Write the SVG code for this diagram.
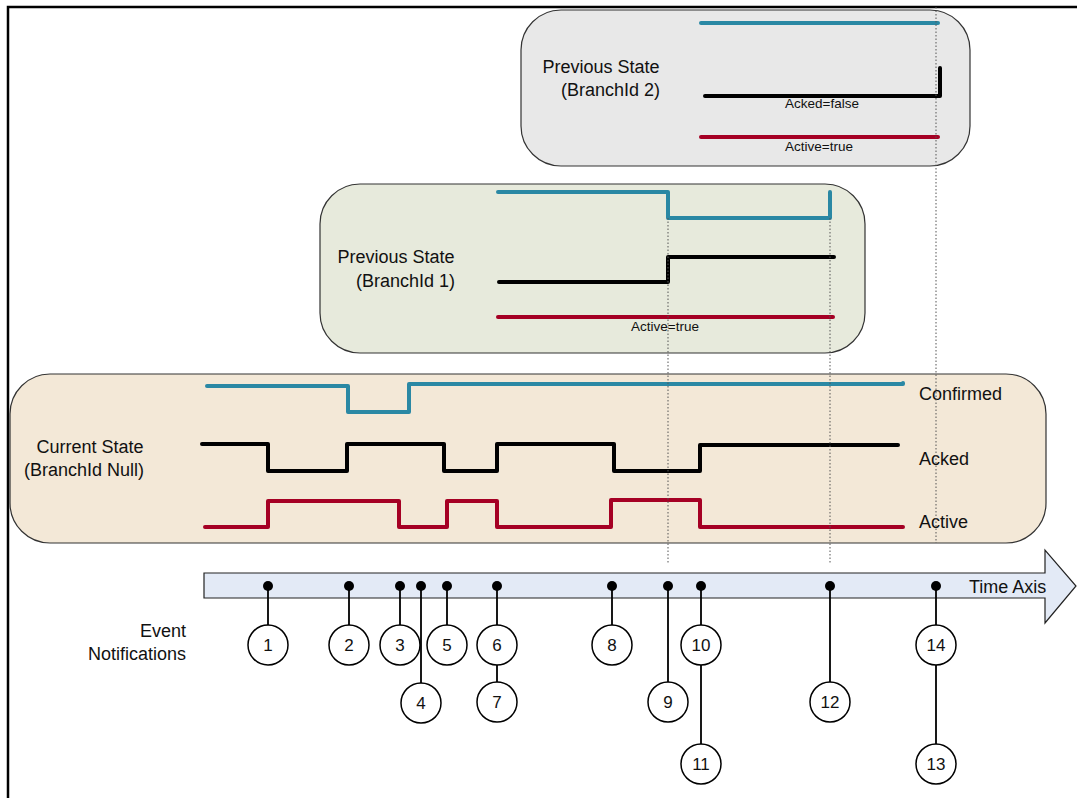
<svg xmlns="http://www.w3.org/2000/svg" width="1077" height="798" viewBox="0 0 1077 798">
<style>
.box{stroke:#333;stroke-width:1.2}
.sig{fill:none;stroke-width:4;stroke-linejoin:round;stroke-linecap:round}
.b{stroke:#2a88a4}
.k{stroke:#000}
.r{stroke:#a50024}
.lbl{font-family:"Liberation Sans",Arial,sans-serif;font-size:18px;fill:#111}
.sm{font-family:"Liberation Sans",Arial,sans-serif;font-size:13.5px;fill:#111;text-anchor:middle}
.dot{fill:none;stroke:#555;stroke-width:1;stroke-dasharray:1.5 2}
.ev circle.c{fill:#fff;stroke:#000;stroke-width:1.5}
.ev text{font-family:"Liberation Sans",Arial,sans-serif;font-size:17px;text-anchor:middle;fill:#111}
.tick{stroke:#000;stroke-width:1.8}
.pin{fill:#000}
</style>
<rect width="1077" height="798" fill="#fff"/>
<path d="M8,798 V7 H1077" fill="none" stroke="#000" stroke-width="2.5"/>

<g id="branch2">
<rect class="box" x="521" y="10" width="449" height="156" rx="40" fill="#e8e8e8"/>
<text class="lbl" x="601" y="73" text-anchor="middle">Previous State</text>
<text class="lbl" x="660" y="96" text-anchor="end">(BranchId 2)</text>
<path class="sig b" d="M701,23 H938"/>
<path class="sig k" d="M705,96 H940 V68"/>
<path class="sig r" d="M701,137 H938"/>
<text class="sm" x="822" y="108">Acked=false</text>
<text class="sm" x="819" y="151">Active=true</text>
</g>

<g id="branch1">
<rect class="box" x="320" y="184" width="545" height="169" rx="40" fill="#e7eadc"/>
<text class="lbl" x="396" y="263" text-anchor="middle">Previous State</text>
<text class="lbl" x="455" y="287" text-anchor="end">(BranchId 1)</text>
<path class="sig b" d="M498,192 H668 V218 H830 V192"/>
<path class="sig k" d="M499,282 H668 V257 H834"/>
<path class="sig r" d="M498,317 H833"/>
<text class="sm" x="665" y="331">Active=true</text>
</g>

<g id="current">
<rect class="box" x="10" y="374" width="1036" height="169" rx="40" fill="#f3e8d7"/>
<text class="lbl" x="90" y="453" text-anchor="middle">Current State</text>
<text class="lbl" x="84" y="476" text-anchor="middle">(BranchId Null)</text>
<path class="sig b" d="M207,386 H348 V412 H409 V384 H903 V383"/>
<path class="sig k" d="M202,444 H268 V471 H347 V444 H444 V471 H497 V444 H614 V471 H700 V445 H898"/>
<path class="sig r" d="M205,527 H268 V501 H399 V527 H447 V501 H497 V527 H611 V500 H700 V527 H903"/>
<text class="lbl" x="919" y="400">Confirmed</text>
<text class="lbl" x="919" y="465">Acked</text>
<text class="lbl" x="919" y="528">Active</text>
</g>

<g id="guides">
<path class="dot" d="M668,218 V563"/>
<path class="dot" d="M830,218 V563"/>
<path class="dot" d="M936,7 V543"/>
</g>

<g id="timeaxis">
<path d="M204,573 H1045 V550 L1076,586 L1045,623 V598 H204 Z" fill="#e3eaf6" stroke="#222" stroke-width="1.2"/>
<text class="lbl" x="969" y="593">Time Axis</text>
</g>

<g id="label-events">
<text class="lbl" x="186" y="637" text-anchor="end">Event</text>
<text class="lbl" x="186" y="660" text-anchor="end">Notifications</text>
</g>

<g id="connectors">
<path class="tick" d="M268,586 V625 M349,586 V625 M400,586 V625 M421,586 V683 M447,586 V625 M497,586 V625 M497,665 V682 M612,586 V625 M668,586 V682 M701,586 V625 M701,665 V744 M830,586 V682 M936,586 V625 M936,665 V744"/>
<g class="pin">
<circle cx="268" cy="586" r="5"/><circle cx="349" cy="586" r="5"/><circle cx="400" cy="586" r="5"/><circle cx="421" cy="586" r="5"/><circle cx="447" cy="586" r="5"/><circle cx="497" cy="586" r="5"/><circle cx="612" cy="586" r="5"/><circle cx="668" cy="586" r="5"/><circle cx="701" cy="586" r="5"/><circle cx="830" cy="586" r="5"/><circle cx="936" cy="586" r="5"/>
</g>
</g>

<g id="ev1" class="ev"><circle class="c" cx="268" cy="645" r="20"/><text x="268" y="651">1</text></g>
<g id="ev2" class="ev"><circle class="c" cx="349" cy="645" r="20"/><text x="349" y="651">2</text></g>
<g id="ev3" class="ev"><circle class="c" cx="400" cy="645" r="20"/><text x="400" y="651">3</text></g>
<g id="ev4" class="ev"><circle class="c" cx="421" cy="703" r="20"/><text x="421" y="709">4</text></g>
<g id="ev5" class="ev"><circle class="c" cx="447" cy="645" r="20"/><text x="447" y="651">5</text></g>
<g id="ev6" class="ev"><circle class="c" cx="497" cy="645" r="20"/><text x="497" y="651">6</text></g>
<g id="ev7" class="ev"><circle class="c" cx="497" cy="702" r="20"/><text x="497" y="708">7</text></g>
<g id="ev8" class="ev"><circle class="c" cx="612" cy="645" r="20"/><text x="612" y="651">8</text></g>
<g id="ev9" class="ev"><circle class="c" cx="668" cy="702" r="20"/><text x="668" y="708">9</text></g>
<g id="ev10" class="ev"><circle class="c" cx="701" cy="645" r="20"/><text x="701" y="651">10</text></g>
<g id="ev11" class="ev"><circle class="c" cx="701" cy="764" r="20"/><text x="701" y="770">11</text></g>
<g id="ev12" class="ev"><circle class="c" cx="830" cy="702" r="20"/><text x="830" y="708">12</text></g>
<g id="ev13" class="ev"><circle class="c" cx="936" cy="764" r="20"/><text x="936" y="770">13</text></g>
<g id="ev14" class="ev"><circle class="c" cx="936" cy="645" r="20"/><text x="936" y="651">14</text></g>
</svg>
